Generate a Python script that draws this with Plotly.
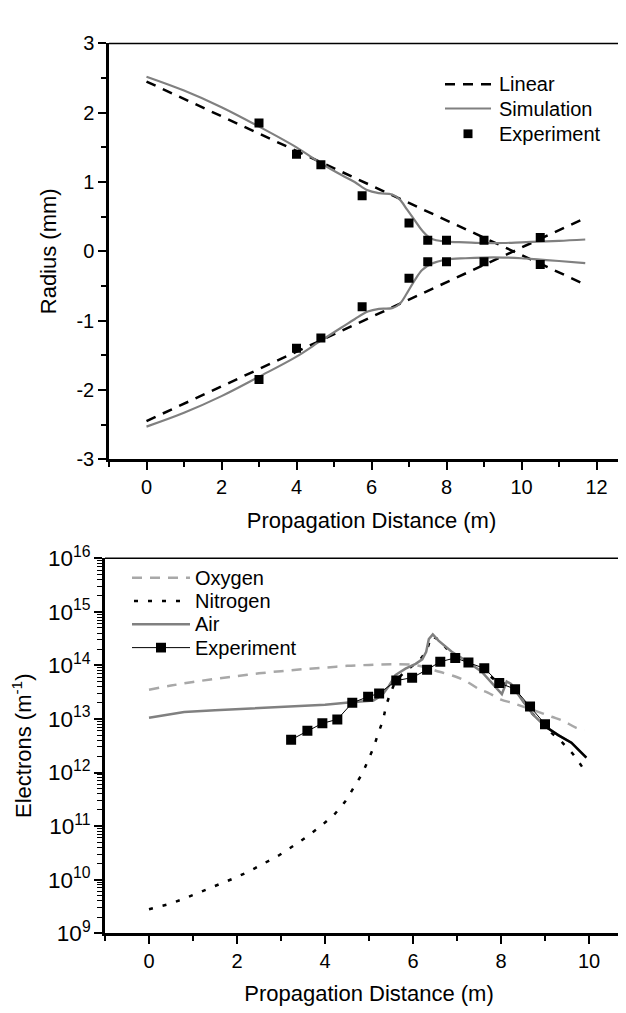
import plotly.graph_objects as go

# ---------------- Top panel data ----------------
lin_x = [0, 11.7]
lin_upper = [2.45, -0.48]
lin_lower = [-2.45, 0.48]

sim_x = [0, 1, 2, 3, 4, 4.65, 5.2, 5.55, 5.9, 6.2, 6.55, 6.75, 6.95, 7.15, 7.35, 7.6, 8.0, 8.5, 9.0, 9.5, 10.0, 10.5, 11.0, 11.7]
sim_upper = [2.52, 2.32, 2.08, 1.80, 1.50, 1.27, 1.10, 1.00, 0.88, 0.84, 0.82, 0.75, 0.60, 0.45, 0.30, 0.18, 0.14, 0.13, 0.12, 0.12, 0.13, 0.14, 0.15, 0.17]
sim_lower = [-2.53, -2.33, -2.09, -1.81, -1.52, -1.29, -1.10, -0.98, -0.87, -0.83, -0.82, -0.76, -0.60, -0.42, -0.27, -0.18, -0.12, -0.10, -0.09, -0.09, -0.10, -0.12, -0.14, -0.17]

exp_top_x = [3, 4, 4.65, 5.75, 7, 7.5, 8, 9, 10.5]
exp_top_upper = [1.85, 1.40, 1.25, 0.80, 0.41, 0.16, 0.16, 0.16, 0.20]
exp_top_lower = [-1.85, -1.40, -1.25, -0.80, -0.39, -0.15, -0.15, -0.15, -0.19]

top_xticks = [0, 2, 4, 6, 8, 10, 12]
top_yticks = [-3, -2, -1, 0, 1, 2, 3]
top_legend = ["Linear", "Simulation", "Experiment"]

# ---------------- Bottom panel data ----------------
oxy_x = [0, 0.5, 1, 1.5, 2, 2.5, 3, 3.5, 4, 4.5, 5, 5.5, 6, 6.3, 6.6, 6.96, 7.2, 7.5, 7.7, 8.0, 8.25, 8.5, 8.8, 9.15, 9.4, 9.7, 9.9]
oxy_y = [3.5e13, 4.2e13, 4.9e13, 5.6e13, 6.3e13, 7.1e13, 7.8e13, 8.5e13, 9.1e13, 9.8e13, 1.02e14, 1.05e14, 1.02e14, 9.1e13, 7.6e13, 6.2e13, 5.1e13, 3.6e13, 3.1e13, 2.3e13, 2.0e13, 1.7e13, 1.4e13, 1.1e13, 9.3e12, 6.9e12, 6.2e12]

nit_x = [0, 0.4, 0.73, 1.04, 1.35, 1.67, 2.0, 2.31, 2.62, 2.94, 3.25, 3.56, 3.88, 4.2, 4.45, 4.66, 4.85, 4.98, 5.11, 5.21, 5.32, 5.39, 5.49, 5.6, 5.8, 6.0, 6.2, 6.32, 6.42, 6.6, 6.8, 7.0, 7.3, 7.6, 7.9, 8.1, 8.3, 8.5, 8.7, 9.0, 9.37, 9.64, 9.9]
nit_y = [2.8e9, 3.4e9, 4.2e9, 5.3e9, 6.8e9, 8.6e9, 1.12e10, 1.48e10, 2.0e10, 2.8e10, 4.1e10, 6.1e10, 9.6e10, 1.6e11, 2.8e11, 5.4e11, 9.6e11, 1.7e12, 3.0e12, 5.4e12, 9.5e12, 1.8e13, 3.1e13, 5.0e13, 7.5e13, 1.0e14, 1.4e14, 2.0e14, 3.5e14, 3.0e14, 1.9e14, 1.4e14, 1.1e14, 8.0e13, 5.0e13, 4.5e13, 3.5e13, 2.2e13, 1.3e13, 7.0e12, 3.8e12, 2.2e12, 1.1e12]

air_x = [0, 0.4, 0.8, 1.5, 2.0, 2.5, 3.2, 4.0, 4.6, 5.1, 5.3, 5.45, 5.6, 5.83, 6.06, 6.21, 6.3, 6.36, 6.45, 6.58, 6.88, 7.18, 7.56, 7.79, 8.02, 8.13, 8.23, 8.47, 8.73, 9.0, 9.3, 9.6, 9.94]
air_y = [1.05e13, 1.2e13, 1.35e13, 1.45e13, 1.52e13, 1.6e13, 1.7e13, 1.85e13, 2.05e13, 2.2e13, 2.8e13, 4.1e13, 6.6e13, 8.7e13, 1.07e14, 1.3e14, 1.8e14, 3.1e14, 3.8e14, 2.9e14, 1.8e14, 1.26e14, 7.6e13, 4.7e13, 2.9e13, 5.0e13, 4.5e13, 2.3e13, 1.2e13, 7.3e12, 5.0e12, 3.6e12, 1.9e12]

exp_bot_x = [3.23, 3.60, 3.94, 4.28, 4.62, 4.98, 5.23, 5.62, 5.98, 6.32, 6.62, 6.96, 7.26, 7.62, 7.96, 8.32, 8.66, 9.0]
exp_bot_y = [4.1e12, 6.0e12, 8.3e12, 9.8e12, 2.0e13, 2.6e13, 3.0e13, 5.2e13, 5.9e13, 8.3e13, 1.17e14, 1.38e14, 1.13e14, 8.8e13, 4.7e13, 3.6e13, 1.7e13, 8.0e12]

bot_xticks = [0, 2, 4, 6, 8, 10]
bot_legend = ["Oxygen", "Nitrogen", "Air", "Experiment"]

FONT = "Liberation Sans, Arial, sans-serif"
GRAY = "#808080"
LGRAY = "#a8a8a8"
W, H = 626, 1013

LIN_DASH = "10px,8px"
OXY_DASH = "10px,8px"
NIT_DASH = "4px,10px"

fig = go.Figure()

# ---- top panel traces ----
for yy in (lin_upper, lin_lower):
    fig.add_trace(go.Scatter(x=lin_x, y=yy, mode="lines", name="Linear", showlegend=False,
                             line=dict(color="black", width=2.5, dash=LIN_DASH),
                             xaxis="x", yaxis="y"))
for yy in (sim_upper, sim_lower):
    fig.add_trace(go.Scatter(x=sim_x, y=yy, mode="lines", name="Simulation", showlegend=False,
                             line_shape="spline", line=dict(color=GRAY, width=2.2),
                             xaxis="x", yaxis="y"))
for yy in (exp_top_upper, exp_top_lower):
    fig.add_trace(go.Scatter(x=exp_top_x, y=yy, mode="markers", name="Experiment", showlegend=False,
                             marker=dict(symbol="square", size=9, color="black"),
                             xaxis="x", yaxis="y"))

# ---- bottom panel traces ----
fig.add_trace(go.Scatter(x=oxy_x, y=oxy_y, mode="lines", name="Oxygen", showlegend=False,
                         line_shape="spline", line=dict(color=LGRAY, width=2.5, dash=OXY_DASH),
                         xaxis="x2", yaxis="y2"))
fig.add_trace(go.Scatter(x=nit_x, y=nit_y, mode="lines", name="Nitrogen", showlegend=False,
                         line=dict(color="black", width=2.5, dash=NIT_DASH),
                         xaxis="x2", yaxis="y2"))
fig.add_trace(go.Scatter(x=air_x, y=air_y, mode="lines", name="Air", showlegend=False,
                         line=dict(color=GRAY, width=2.5),
                         xaxis="x2", yaxis="y2"))
tail = [i for i, v in enumerate(air_x) if v >= 9.0]
fig.add_trace(go.Scatter(x=[air_x[i] for i in tail], y=[air_y[i] for i in tail], mode="lines",
                         showlegend=False, line=dict(color="black", width=2.5),
                         xaxis="x2", yaxis="y2"))
fig.add_trace(go.Scatter(x=exp_bot_x, y=exp_bot_y, mode="lines+markers", name="Experiment",
                         showlegend=False, line=dict(color="black", width=1),
                         marker=dict(symbol="square", size=10, color="black"),
                         xaxis="x2", yaxis="y2"))


def px_x(p):
    return p / W


def px_y(p):
    return 1 - p / H


axis_common = dict(showline=True, linecolor="black", linewidth=2.5, ticks="outside",
                   ticklen=8, tickwidth=2, tickcolor="black", showgrid=False, zeroline=False)
minor_common = dict(ticks="outside", ticklen=5, tickwidth=1.5, tickcolor="black", showgrid=False)
tick20 = dict(family=FONT, size=20, color="black")

fig.update_layout(
    width=W, height=H, margin=dict(l=0, r=0, t=0, b=0),
    paper_bgcolor="white", plot_bgcolor="white",
    font=dict(family=FONT, color="black"),
    showlegend=False,
    xaxis=dict(domain=[px_x(101), 1.0], range=[-1, 13], tickvals=top_xticks, anchor="y",
               minor=dict(dtick=1, tick0=0, **minor_common), tickfont=tick20,
               title=dict(text="Propagation Distance (m)", font=dict(size=22), standoff=16),
               **axis_common),
    yaxis=dict(domain=[px_y(448), px_y(20)], range=[-3, 3], anchor="x",
               tickvals=top_yticks, ticktext=[str(v) for v in top_yticks],
               minor=dict(dtick=0.5, tick0=0, **minor_common), tickfont=tick20,
               title=dict(text="Radius (mm)", font=dict(size=22), standoff=14),
               **axis_common),
    xaxis2=dict(domain=[px_x(97), px_x(625)], range=[-1, 11], tickvals=bot_xticks, anchor="y2",
                minor=dict(dtick=1, tick0=0, **minor_common), tickfont=tick20,
                title=dict(text="Propagation Distance (m)", font=dict(size=22), standoff=15),
                **axis_common),
    yaxis2=dict(domain=[px_y(936), px_y(550)], type="log", range=[9, 16], anchor="x2",
                dtick=1, exponentformat="power", showexponent="all",
                tickfont=dict(family=FONT, size=18, color="black"),
                minor=dict(dtick="D1", ticks="outside", ticklen=5, tickwidth=1.2, tickcolor="black", showgrid=False),
                title=dict(text="Electrons (m<sup>-1</sup>)", font=dict(size=22), standoff=18),
                **axis_common),
)

# thin top / right frame lines
fig.add_shape(type="line", xref="x domain", yref="y domain", x0=0, x1=1, y0=1, y1=1,
              line=dict(color="black", width=1.5))
fig.add_shape(type="line", xref="x2 domain", yref="y2 domain", x0=0, x1=1, y0=1, y1=1,
              line=dict(color="black", width=1.5))
fig.add_shape(type="line", xref="x2 domain", yref="y2 domain", x0=1, x1=1, y0=0, y1=1,
              line=dict(color="black", width=1.5))


# ---- manual legends (long sample lines as in the reference) ----
def legend_line(x0, x1, yp, color, width, dash="solid"):
    fig.add_shape(type="line", xref="paper", yref="paper",
                  x0=px_x(x0), x1=px_x(x1), y0=px_y(yp), y1=px_y(yp),
                  line=dict(color=color, width=width, dash=dash))


def legend_square(xc, yp, s):
    fig.add_shape(type="rect", xref="paper", yref="paper",
                  x0=px_x(xc - s / 2), x1=px_x(xc + s / 2), y0=px_y(yp + s / 2), y1=px_y(yp - s / 2),
                  line=dict(width=0), fillcolor="black")


def legend_text(xp, yp, text):
    fig.add_annotation(xref="paper", yref="paper", x=px_x(xp), y=px_y(yp), text=text,
                       showarrow=False, xanchor="left", yanchor="middle",
                       font=dict(family=FONT, size=20, color="black"))


# top legend
top_rows = [62, 87, 113]
legend_line(437, 483, top_rows[0], "black", 2.5, LIN_DASH)
legend_line(437, 483, top_rows[1], GRAY, 2.2)
legend_square(460, top_rows[2], 9)
for name, yp in zip(top_legend, top_rows):
    legend_text(489, yp, name)

# bottom legend
bot_rows = [570, 594, 618, 642]
legend_line(124, 182, bot_rows[0], LGRAY, 2.5, OXY_DASH)
legend_line(126, 182, bot_rows[1], "black", 2.5, NIT_DASH)
legend_line(124, 182, bot_rows[2], GRAY, 2.5)
legend_line(124, 182, bot_rows[3], "black", 1)
legend_square(153, bot_rows[3], 10)
for name, yp in zip(bot_legend, bot_rows):
    legend_text(185, yp, name)

fig.write_html("out.html")
